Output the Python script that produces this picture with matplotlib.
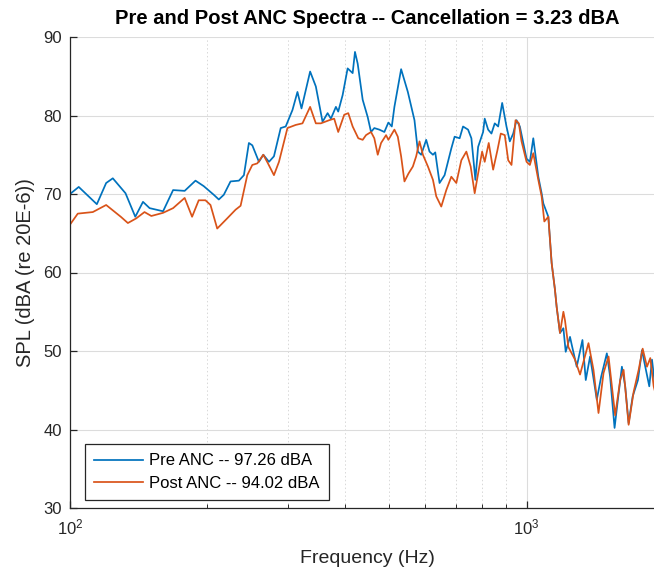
import matplotlib
matplotlib.use("Agg")
import matplotlib.pyplot as plt
from matplotlib.ticker import LogLocator, FixedLocator, NullFormatter

plt.rcParams['font.family'] = ['Liberation Sans', 'DejaVu Sans']

title = "Pre and Post ANC Spectra -- Cancellation = 3.23 dBA"
xlabel = "Frequency (Hz)"
ylabel = "SPL (dBA (re 20E-6))"
pre_label = "Pre ANC -- 97.26 dBA"
post_label = "Post ANC -- 94.02 dBA"

pre_freq = [100, 104.5, 114.5, 120.0, 124.1, 132.3, 139.0, 144.5, 149.4, 159.9, 168.2,
            178.3, 188.3, 196.3, 206.5, 211.8, 217.2, 224.7, 234.4, 240.4, 246.5, 250.8,
            259.3, 265.1, 272.8, 279.7, 289.4, 296.8, 307.1, 314.9, 321.4, 335.7, 345.5,
            357.4, 366.6, 372.8, 382.3, 386.8, 395.5, 405.6, 416.0, 420.9, 426.7, 437.6,
            448.8, 456.4, 464.0, 475.9, 488.1, 498.1, 506.8, 513.5, 531.2, 549.5, 568.2,
            578.1, 587.8, 602.8, 613.0, 623.7, 631.0, 644.8, 661.4, 684.2, 695.7, 713.5,
            725.9, 744.5, 757.1, 772.5, 783.2, 803.2, 809.7, 823.8, 837.7, 851.8, 866.6,
            884.3, 903.7, 919.0, 934.9, 950.7, 966.7, 1000.0, 1016.8, 1034.5, 1061.0,
            1078.9, 1088.2, 1116.1, 1134.9, 1154.0, 1164.0, 1183.6, 1204.1, 1218.2,
            1245.0, 1255.8, 1287.9, 1325.6, 1347.9, 1377.6, 1425.1, 1456.5, 1499.1,
            1524.4, 1558.7, 1584.9, 1617.4, 1644.6, 1673.2, 1707.4, 1753.8, 1789.7,
            1819.7, 1856.9, 1882.5, 1930.7]
pre_db = [70.0, 70.9, 68.7, 71.4, 72.0, 70.1, 67.1, 69.0, 68.2, 67.8, 70.5,
          70.4, 71.7, 71.0, 69.9, 69.3, 69.9, 71.6, 71.7, 72.4, 76.5, 76.2,
          74.1, 75.0, 74.1, 74.8, 78.4, 78.6, 80.7, 83.0, 80.9, 85.6, 83.7,
          79.2, 80.3, 79.6, 81.1, 80.5, 82.6, 86.0, 85.4, 88.1, 86.6, 82.0,
          79.8, 77.9, 78.4, 78.2, 77.9, 79.1, 78.6, 81.1, 85.9, 83.0, 79.4,
          75.4, 75.0, 76.9, 75.4, 75.0, 75.3, 71.4, 72.4, 75.8, 77.3, 77.1,
          78.6, 78.2, 77.1, 71.8, 76.0, 77.9, 79.6, 78.2, 77.7, 79.0, 78.6,
          81.6, 78.6, 76.7, 77.7, 79.4, 78.6, 74.5, 74.1, 77.1, 72.2,
          70.1, 68.8, 67.1, 61.2, 57.8, 55.6, 52.3, 52.9, 49.9,
          51.8, 50.8, 48.0, 51.4, 46.3, 49.3, 43.8, 46.7, 49.7,
          46.7, 40.2, 43.8, 48.0, 45.5, 40.8, 44.2, 46.3, 50.1,
          48.0, 45.5, 48.9, 43.4]

post_freq = [100, 104.0, 112.2, 120.0, 129.2, 133.9, 139.7, 145.6, 150.7, 159.9, 168.2,
             178.3, 185.1, 191.4, 198.0, 203.1, 210.1, 221.0, 230.5, 236.4, 244.5, 250.8,
             257.2, 265.1, 271.4, 279.7, 286.9, 299.4, 312.2, 323.0, 335.7, 345.5, 354.4,
             369.6, 379.0, 386.8, 398.7, 406.9, 416.0, 428.0, 437.6, 445.0, 456.4, 464.0,
             472.1, 480.1, 492.4, 498.1, 513.5, 522.4, 531.2, 540.2, 551.2, 563.6, 573.1,
             582.8, 592.9, 608.1, 623.7, 634.2, 650.4, 667.1, 684.2, 701.7, 719.7, 738.1,
             754.4, 769.8, 783.2, 799.2, 809.7, 826.3, 844.9, 863.5, 878.1, 896.0, 911.6,
             926.9, 945.9, 961.8, 975.0, 1000.0, 1016.8, 1034.5, 1061.0, 1078.9, 1093.7,
             1116.1, 1134.9, 1154.0, 1164.0, 1183.6, 1204.1, 1213.9, 1234.9, 1276.9,
             1309.6, 1366.5, 1401.5, 1437.4, 1474.3, 1512.1, 1563.4, 1603.5, 1631.4,
             1673.2, 1716.1, 1760.0, 1796.1, 1835.4, 1866.4, 1898.7, 1930.7]
post_db = [66.1, 67.5, 67.7, 68.6, 67.1, 66.3, 66.9, 67.7, 67.2, 67.6, 68.2,
           69.5, 67.1, 69.2, 69.2, 68.6, 65.6, 66.9, 68.0, 68.5, 72.4, 73.7,
           73.9, 75.0, 73.9, 72.4, 74.1, 78.4, 78.8, 79.0, 81.1, 79.0, 79.0,
           79.4, 79.6, 77.9, 80.1, 80.3, 78.6, 77.1, 76.9, 77.5, 77.9, 77.1,
           75.0, 76.5, 77.5, 76.9, 78.2, 77.3, 74.8, 71.6, 72.6, 73.5, 74.8,
           76.7, 75.0, 73.5, 71.8, 69.7, 68.4, 70.5, 72.2, 71.4, 74.3, 75.4,
           73.5, 70.1, 72.6, 75.4, 74.1, 76.5, 73.1, 75.6, 77.7, 77.5, 74.3,
           73.7, 79.4, 79.0, 76.7, 74.1, 73.7, 75.2, 71.8, 69.7, 66.5,
           67.1, 61.2, 57.8, 55.6, 52.3, 55.0, 53.9, 50.5, 48.9,
           47.0, 51.0, 47.6, 42.1, 47.2, 49.3, 41.8, 46.3, 47.6,
           40.6, 44.8, 47.6, 50.3, 48.0, 49.1, 45.5, 43.8]

x_limits = (100, 2000)
y_limits = (30, 90)
y_ticks = [30, 40, 50, 60, 70, 80, 90]

W, H = 654, 571
fig = plt.figure(figsize=(W / 100, H / 100), dpi=100)
ax = fig.add_axes([70 / W, 1 - 508 / H, (664 - 70) / W, (508 - 37) / H])

blue = '#0072BD'
orange = '#D95319'
ax.plot(pre_freq, pre_db, color=blue, lw=1.25, label=pre_label)
ax.plot(post_freq, post_db, color=orange, lw=1.25, label=post_label)

ax.set_xscale('log')
ax.set_xlim(*x_limits)
ax.set_ylim(*y_limits)
ax.set_yticks(y_ticks)
ax.xaxis.set_major_locator(FixedLocator([100, 1000]))
ax.xaxis.set_minor_locator(LogLocator(base=10, subs=range(2, 10)))
ax.xaxis.set_minor_formatter(NullFormatter())

axc = '#262626'
ax.grid(True, which='major', axis='both', color='#dcdcdc', lw=0.8, ls='-')
ax.grid(True, which='minor', axis='x', color='#d8d8d8', lw=0.7, ls=(0, (1.5, 2.5)))
ax.set_axisbelow(True)

for s in ['top', 'right']:
    ax.spines[s].set_visible(False)
for s in ['left', 'bottom']:
    ax.spines[s].set_color(axc)
    ax.spines[s].set_linewidth(0.9)

ax.tick_params(which='major', direction='in', length=5, width=0.9, colors=axc,
               labelsize=12, labelcolor=axc, top=False, right=False)
ax.tick_params(which='minor', direction='in', length=3, width=0.7, colors=axc,
               top=False, right=False)
ax.tick_params(axis='x', which='major', pad=7)
ax.tick_params(axis='y', which='major', pad=6)

ax.set_title(title, fontsize=14.5, fontweight='bold', color='black', pad=9)
ax.set_xlabel(xlabel, fontsize=14, color=axc, labelpad=9)
ax.set_ylabel(ylabel, fontsize=14.5, color=axc, labelpad=6)

leg = ax.legend(loc='lower left', bbox_to_anchor=(15 / 594, 8 / 471), fontsize=12,
                frameon=True, fancybox=False, framealpha=1, edgecolor='#262626',
                handlelength=2.9, handletextpad=0.4, borderpad=0.55,
                labelspacing=0.45, borderaxespad=0)
leg.get_frame().set_linewidth(0.9)

fig.savefig('out.png', dpi=100)
